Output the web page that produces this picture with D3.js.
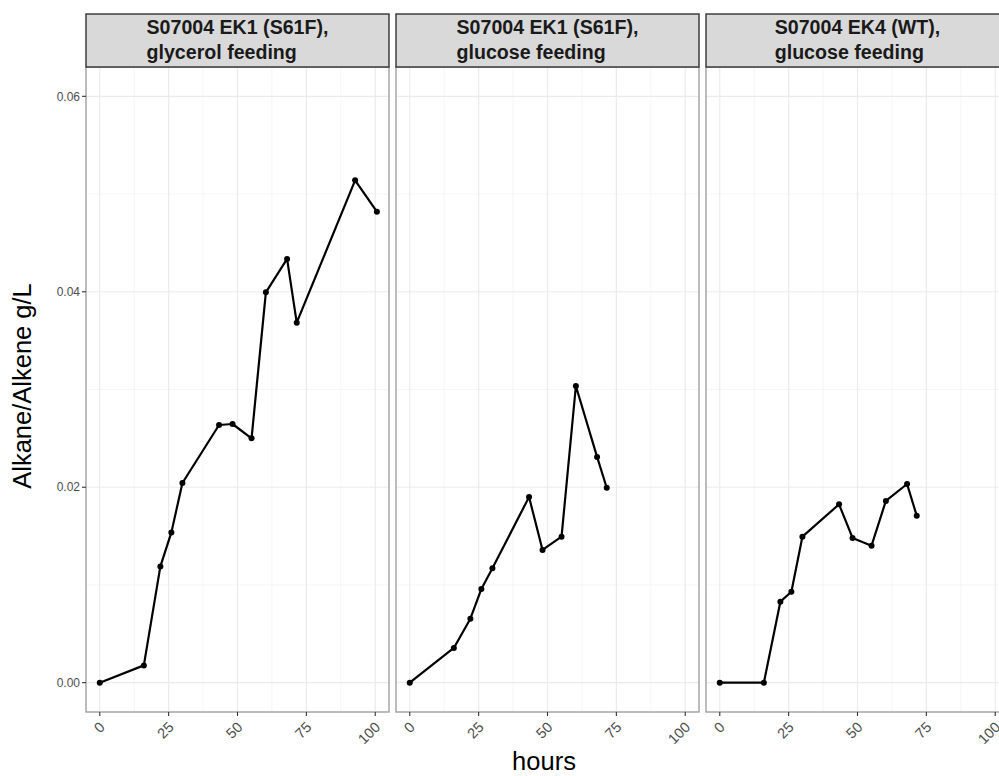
<!DOCTYPE html>
<html>
<head>
<meta charset="utf-8">
<script src="https://cdn.jsdelivr.net/npm/d3@7"></script>
<style>
  body { margin: 0; background: #fff; }
  svg { display: block; font-family: "Liberation Sans", Arial, sans-serif; }
</style>
</head>
<body>
<svg id="chart" width="999" height="776"></svg>
<script>
// ---- data ----
const panelTitles = [
  ["S07004 EK1 (S61F),", "glycerol feeding"],
  ["S07004 EK1 (S61F),", "glucose feeding"],
  ["S07004 EK4 (WT),", "glucose feeding"]
];
const hours1 = [0, 16, 22, 26, 30, 43.3, 48.2, 55.1, 60.3, 68, 71.5, 92.7, 100.6];
const values1 = [0, 0.00177, 0.0119, 0.01538, 0.02043, 0.02637, 0.02647, 0.0250, 0.03994, 0.04336, 0.03684, 0.0514, 0.0482];
const hours2 = [0, 16, 22, 26, 30, 43.3, 48.2, 55.1, 60.3, 68, 71.5];
const values2 = [0, 0.00355, 0.00655, 0.00959, 0.0117, 0.0190, 0.01358, 0.01494, 0.03036, 0.0231, 0.01995];
const hours3 = [0, 16, 22, 26, 30, 43.3, 48.2, 55.1, 60.3, 68, 71.5];
const values3 = [0, 0, 0.00829, 0.00931, 0.01494, 0.01825, 0.01481, 0.01402, 0.0186, 0.02033, 0.01709];
const xTicks = [0, 25, 50, 75, 100];
const xMinor = [12.5, 37.5, 62.5, 87.5];
const yTicks = [0, 0.02, 0.04, 0.06];
const yMinor = [0.01, 0.03, 0.05];
const xTitle = "hours";
const yTitle = "Alkane/Alkene g/L";

const series = [
  hours1.map((h, i) => ({h, v: values1[i]})),
  hours2.map((h, i) => ({h, v: values2[i]})),
  hours3.map((h, i) => ({h, v: values3[i]}))
];

// ---- layout ----
const panelLefts = [86, 396, 706];
const panelW = 303;
const stripTop = 14, stripH = 53;
const panelTop = stripTop + stripH, panelBottom = 712;
const stripFont = 19.6;

const svg = d3.select("#chart");
const x = d3.scaleLinear().domain([-5, 105]).range([0, panelW]);
const y = d3.scaleLinear().domain([-0.003, 0.063]).range([panelBottom, panelTop]);

const line = d3.line().x(d => x(d.h)).y(d => y(d.v));

series.forEach((data, p) => {
  const g = svg.append("g").attr("transform", `translate(${panelLefts[p]},0)`);

  g.append("rect").attr("x", 0).attr("y", panelTop).attr("width", panelW)
    .attr("height", panelBottom - panelTop).attr("fill", "#fff");

  // minor grid
  g.selectAll(".xmin").data(xMinor).enter().append("line")
    .attr("x1", d => x(d)).attr("x2", d => x(d))
    .attr("y1", panelTop).attr("y2", panelBottom)
    .attr("stroke", "#f2f2f2").attr("stroke-width", 0.8);
  g.selectAll(".ymin").data(yMinor).enter().append("line")
    .attr("x1", 0).attr("x2", panelW)
    .attr("y1", d => y(d)).attr("y2", d => y(d))
    .attr("stroke", "#f2f2f2").attr("stroke-width", 0.8);
  // major grid
  g.selectAll(".xmaj").data(xTicks).enter().append("line")
    .attr("x1", d => x(d)).attr("x2", d => x(d))
    .attr("y1", panelTop).attr("y2", panelBottom)
    .attr("stroke", "#ebebeb").attr("stroke-width", 1.2);
  g.selectAll(".ymaj").data(yTicks).enter().append("line")
    .attr("x1", 0).attr("x2", panelW)
    .attr("y1", d => y(d)).attr("y2", d => y(d))
    .attr("stroke", "#ebebeb").attr("stroke-width", 1.2);

  // data line
  g.append("path").datum(data).attr("d", line)
    .attr("fill", "none").attr("stroke", "#000").attr("stroke-width", 2.2)
    .attr("stroke-linejoin", "round");
  g.selectAll(".pt").data(data).enter().append("circle")
    .attr("cx", d => x(d.h)).attr("cy", d => y(d.v)).attr("r", 3).attr("fill", "#000");

  // panel border
  g.append("rect").attr("x", 0).attr("y", panelTop).attr("width", panelW)
    .attr("height", panelBottom - panelTop).attr("fill", "none")
    .attr("stroke", "#a0a0a0").attr("stroke-width", 1.4);

  // strip
  g.append("rect").attr("x", 0).attr("y", stripTop).attr("width", panelW).attr("height", stripH)
    .attr("fill", "#d9d9d9").attr("stroke", "#333").attr("stroke-width", 1.4);
  const lines = panelTitles[p];
  const meas = g.append("text").attr("font-size", stripFont).attr("font-weight", "bold").attr("opacity", 0);
  let maxW = 0;
  lines.forEach(l => { meas.text(l); maxW = Math.max(maxW, meas.node().getComputedTextLength()); });
  meas.remove();
  const left = panelW / 2 - maxW / 2;
  const st = g.append("text").attr("font-size", stripFont).attr("font-weight", "bold").attr("fill", "#1a1a1a");
  lines.forEach((l, i) => {
    st.append("tspan").attr("x", left).attr("y", 34 + i * 25).text(l);
  });

  // x axis
  const xa = g.append("g").attr("transform", `translate(0,${panelBottom})`);
  xa.selectAll("line").data(xTicks).enter().append("line")
    .attr("x1", d => x(d)).attr("x2", d => x(d)).attr("y1", 0).attr("y2", 4)
    .attr("stroke", "#333").attr("stroke-width", 1.1);
  xa.selectAll("text").data(xTicks).enter().append("text")
    .attr("transform", d => `translate(${x(d) + 6},16) rotate(-45)`)
    .attr("text-anchor", "end").attr("font-size", 14.5).attr("fill", "#4d4d4d")
    .text(d => d3.format("d")(d));
});

// y axis (left panel only)
const ya = svg.append("g").attr("transform", `translate(${panelLefts[0]},0)`);
ya.selectAll("line").data(yTicks).enter().append("line")
  .attr("x1", -4).attr("x2", 0).attr("y1", d => y(d)).attr("y2", d => y(d))
  .attr("stroke", "#333").attr("stroke-width", 1.1);
ya.selectAll("text").data(yTicks).enter().append("text")
  .attr("x", -6).attr("y", d => y(d)).attr("dy", "0.35em")
  .attr("text-anchor", "end").attr("font-size", 12).attr("fill", "#4d4d4d")
  .text(d => d3.format(".2f")(d));

// axis titles
svg.append("text").attr("x", 544).attr("y", 770).attr("text-anchor", "middle")
  .attr("font-size", 25.5).attr("fill", "#000").text(xTitle);
svg.append("text").attr("transform", "translate(31,386) rotate(-90)")
  .attr("text-anchor", "middle").attr("font-size", 25.5).attr("fill", "#000").text(yTitle);
</script>
</body>
</html>
